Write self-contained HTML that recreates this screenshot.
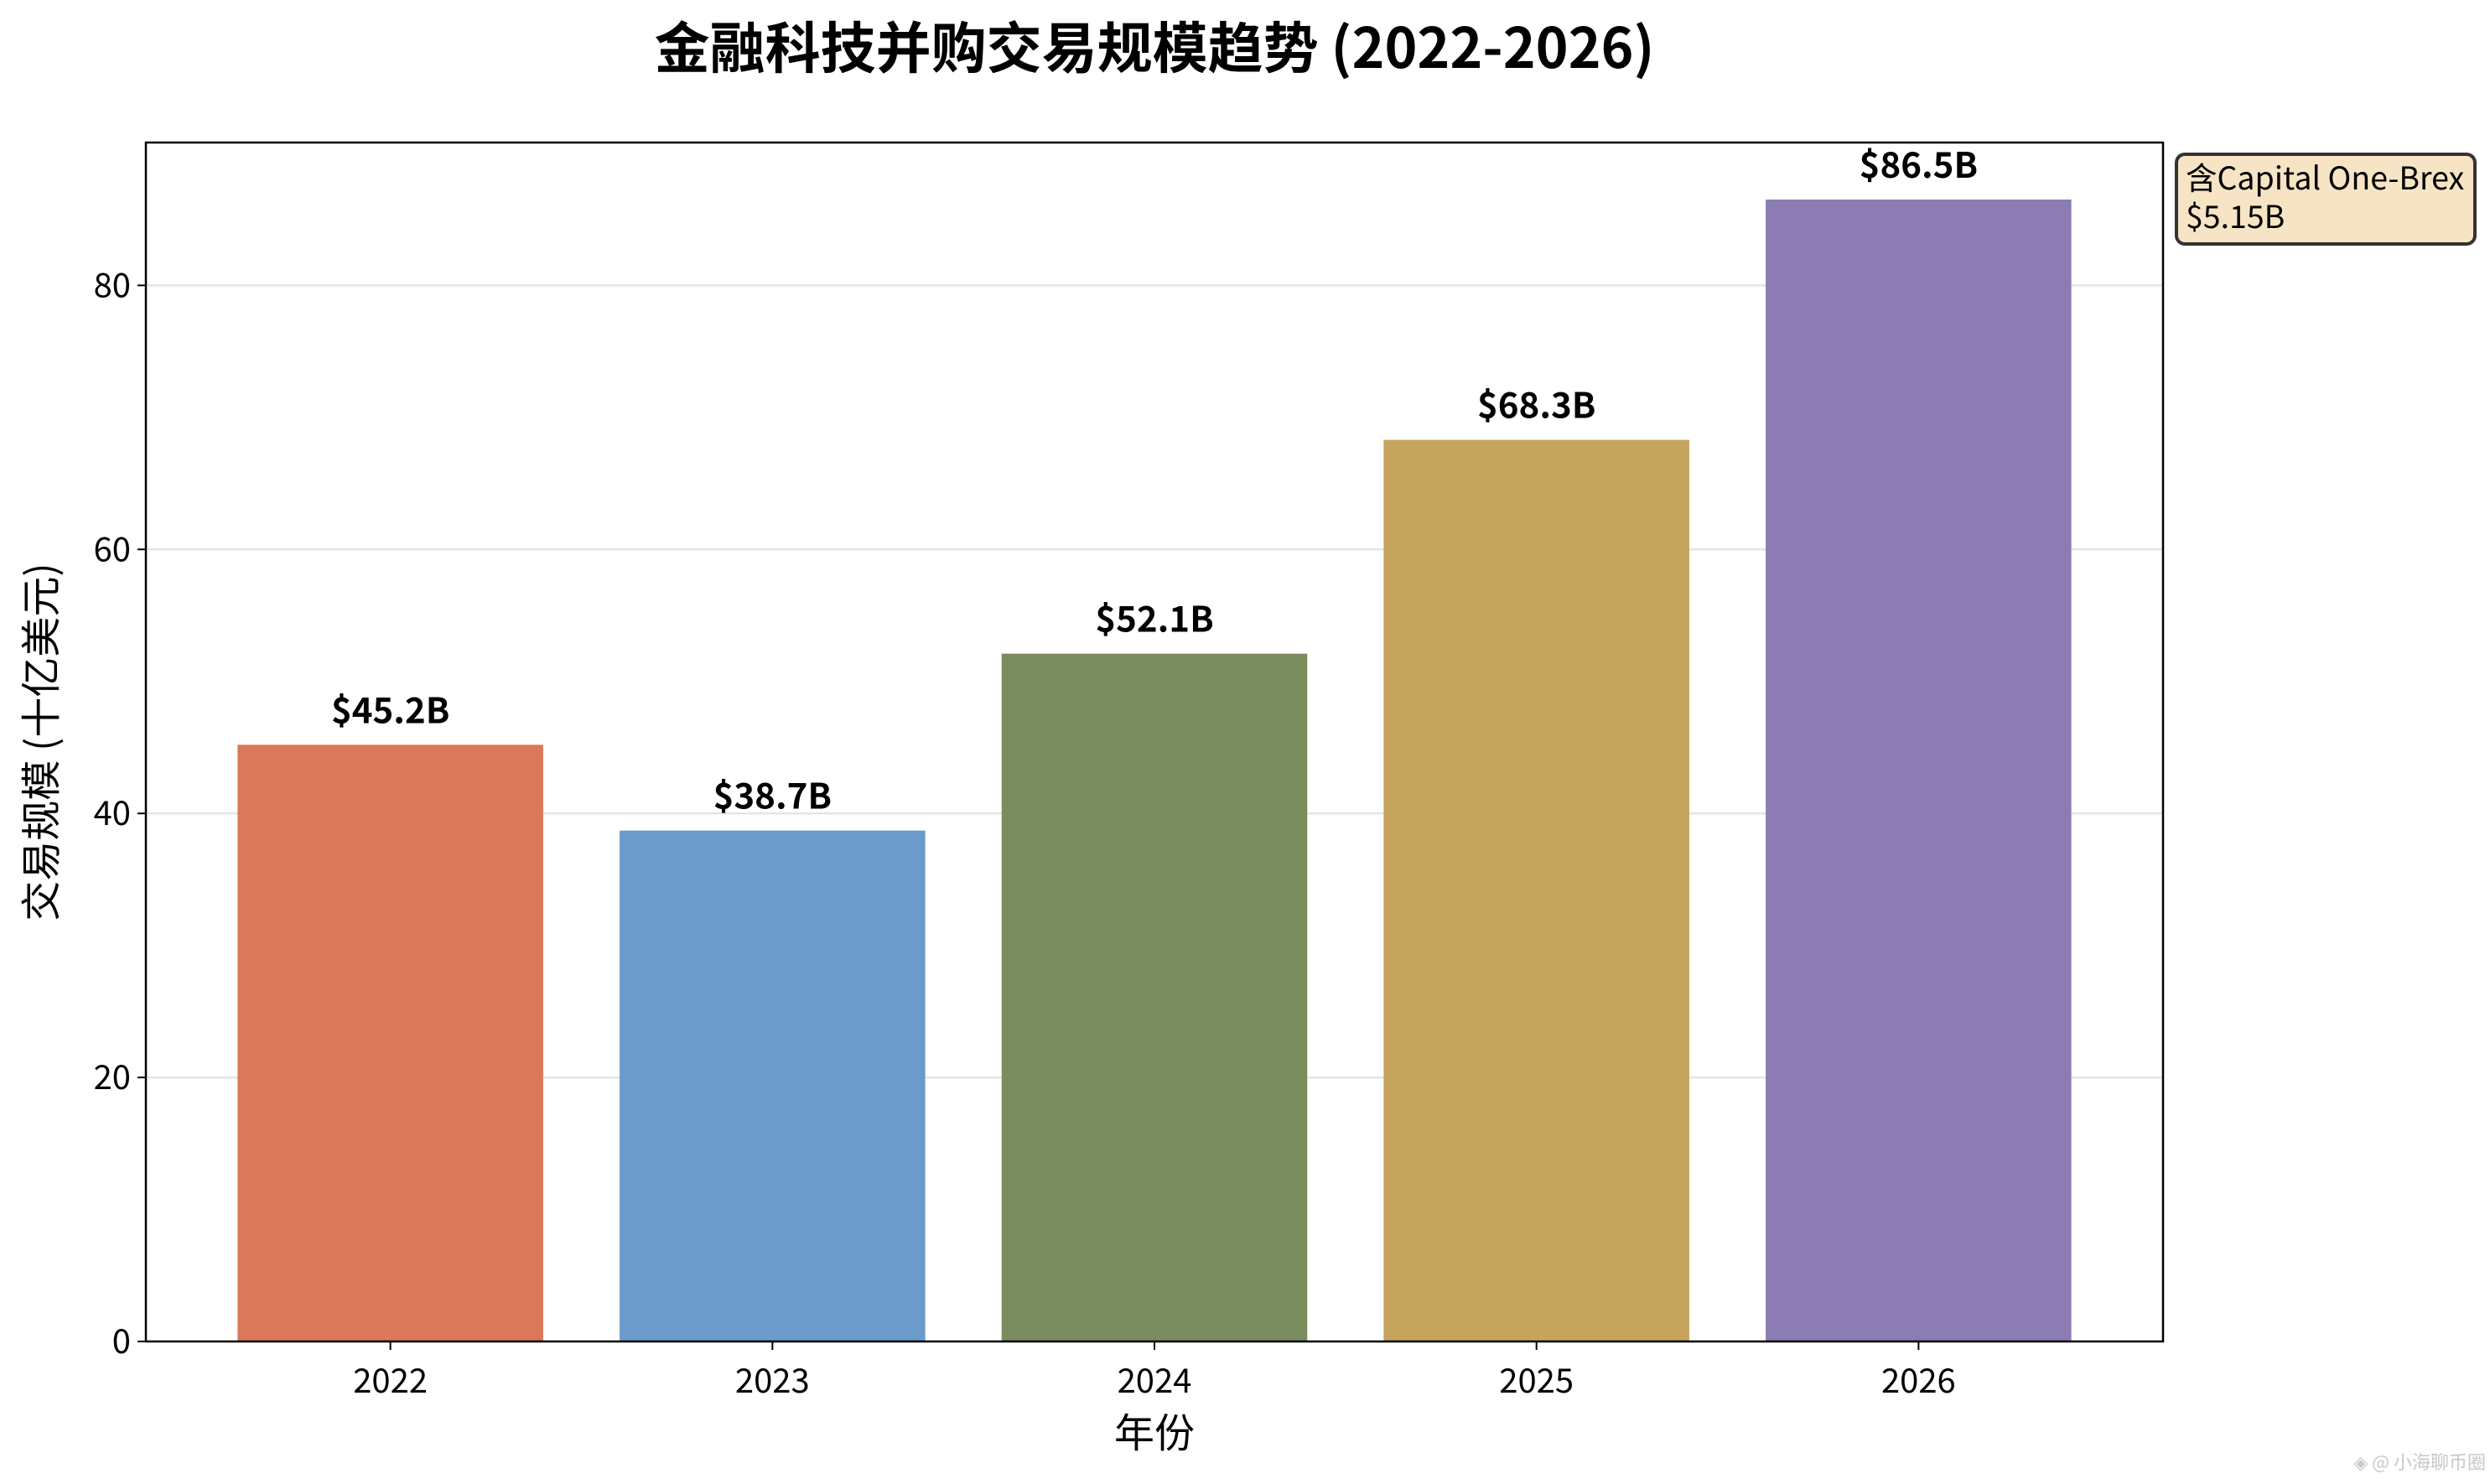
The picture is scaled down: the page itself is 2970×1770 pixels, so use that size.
<!DOCTYPE html>
<html><head><meta charset="utf-8"><style>
html,body{margin:0;padding:0;background:#fff;}
svg{display:block;font-family:"Noto Sans CJK SC","Liberation Sans",sans-serif;}
</style></head><body>
<svg id="chart" width="2970" height="1770" viewBox="0 0 2970 1770" xmlns="http://www.w3.org/2000/svg">
<rect x="0" y="0" width="2970" height="1770" fill="#fff"/>
<text x="1377" y="81" font-size="66" font-weight="bold" text-anchor="middle">金融科技并购交易规模趋势 (2022-2026)</text>
<g id="grid"></g>
<g id="bars"></g>
<g id="labels"></g>
<rect x="174" y="170" width="2406" height="1430" fill="none" stroke="#000" stroke-width="2.5"/>
<g id="yticks"></g>
<g id="xticks"></g>
<text transform="translate(66,885) rotate(-90)" font-size="48" text-anchor="middle">交易规模 (十亿美元)</text>
<text x="1377" y="1726" font-size="48" text-anchor="middle">年份</text>
<g>
<rect x="2596" y="184" width="356" height="107" rx="10" fill="#f6e4c4" stroke="#333" stroke-width="4"/>
<text x="2607" y="226" font-size="37.5">含Capital One-Brex</text>
<text x="2607" y="272" font-size="37.5">$5.15B</text>
</g>
<text x="2965" y="1752" font-size="22" fill="#c8c8c8" text-anchor="end">◈ @ 小海聊币圈</text>
</svg>
<script>
const categories = ["2022","2023","2024","2025","2026"];
const values = [45.2, 38.7, 52.1, 68.3, 86.5];
const valueLabels = ["$45.2B","$38.7B","$52.1B","$68.3B","$86.5B"];
const yTicks = [0,20,40,60,80];
const colors = ["#d9785a","#6b9bcb","#7a8c5e","#c5a45d","#8b7db3"];

const NS="http://www.w3.org/2000/svg";
const plotL=174, plotR=2580, plotT=170, plotB=1600;
const yMax=90.82;
function y(v){return plotB-(v/yMax)*(plotB-plotT);}
const xMin=-0.64, xMax=4.64;
function x(i){return plotL+(i-xMin)/(xMax-xMin)*(plotR-plotL);}
const bw=0.8*(plotR-plotL)/(xMax-xMin);
function mk(tag,attrs,parent){const e=document.createElementNS(NS,tag);for(const k in attrs)e.setAttribute(k,attrs[k]);document.getElementById(parent).appendChild(e);return e;}

yTicks.forEach(t=>{
  if(t>0){const g=mk('line',{x1:plotL,x2:plotR,y1:y(t),y2:y(t),stroke:'#e4e4e4','stroke-width':2.5},'grid');
  
  }
  const tk=mk('line',{x1:plotL-10,x2:plotL,y1:y(t),y2:y(t),stroke:'#000','stroke-width':2},'yticks');
  
  
  const tl=mk('text',{x:plotL-18,y:y(t)+14,'font-size':40,'text-anchor':'end'},'yticks');
  tl.textContent=t;
  
  
});
categories.forEach((c,i)=>{
  const b=mk('rect',{x:x(i)-bw/2,y:y(values[i]),width:bw,height:plotB-y(values[i]),fill:colors[i]},'bars');
  
  
  const l=mk('text',{x:x(i),y:y(values[i])-26,'font-size':42,'font-weight':'bold','text-anchor':'middle'},'labels');
  l.textContent=valueLabels[i];
  
  
  const tk=mk('line',{x1:x(i),x2:x(i),y1:plotB,y2:plotB+10,stroke:'#000','stroke-width':2},'xticks');
  
  
  const tl=mk('text',{x:x(i),y:plotB+61,'font-size':40,'text-anchor':'middle'},'xticks');
  tl.textContent=c;
  
  
});
</script>
</body></html>
